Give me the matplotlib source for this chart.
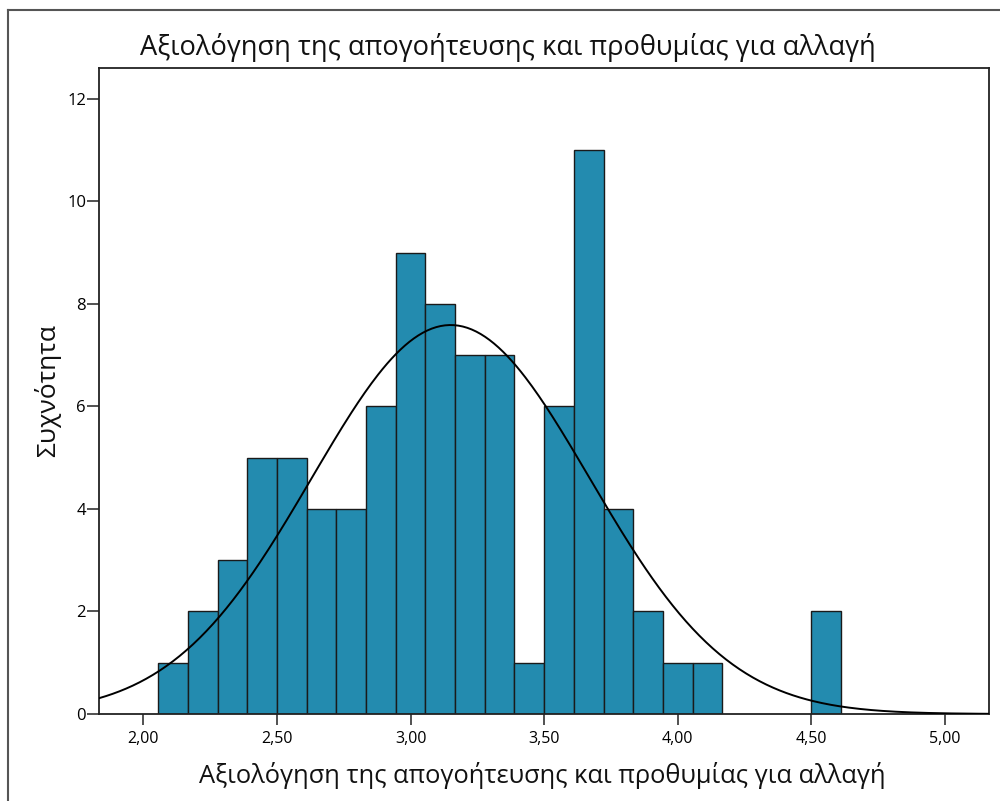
import numpy as np
import matplotlib
matplotlib.use("Agg")
import matplotlib.pyplot as plt
from matplotlib.lines import Line2D

plt.rcParams['font.family'] = ['Open Sans', 'DejaVu Sans']

# ---- data ----
bin_centers = [2.1111, 2.2222, 2.3333, 2.4444, 2.5556, 2.6667, 2.7778, 2.8889,
               3.0000, 3.1111, 3.2222, 3.3333, 3.4444, 3.5556, 3.6667, 3.7778,
               3.8889, 4.0000, 4.1111, 4.5556]
counts = [1, 2, 3, 5, 5, 4, 4, 6, 9, 8, 7, 7, 1, 6, 11, 4, 2, 1, 1, 2]
BIN_WIDTH = 1 / 9
MEAN = 3.15
SD = 0.52
N = 89
x_ticks = [2.0, 2.5, 3.0, 3.5, 4.0, 4.5, 5.0]
x_ticklabels = ["2,00", "2,50", "3,00", "3,50", "4,00", "4,50", "5,00"]
y_ticks = [0, 2, 4, 6, 8, 10, 12]

title = "Αξιολόγηση της απογοήτευσης και προθυμίας για αλλαγή"
xlabel = "Αξιολόγηση της απογοήτευσης και προθυμίας για αλλαγή"
ylabel = "Συχνότητα"

BAR_COLOR = "#238BAF"

fig = plt.figure(figsize=(10.0, 8.01), dpi=100)
ax = fig.add_axes([0.0993, 0.1086, 0.890, 0.8065])

ax.bar(bin_centers, counts, width=BIN_WIDTH, color=BAR_COLOR,
       edgecolor="#1a1a1a", linewidth=1.0, zorder=2)

xlim = (1.835, 5.166)
xs = np.linspace(xlim[0], xlim[1], 400)
ys = N * BIN_WIDTH * np.exp(-0.5 * ((xs - MEAN) / SD) ** 2) / (SD * np.sqrt(2 * np.pi))
ax.plot(xs, ys, color="black", linewidth=1.4, zorder=3)

ax.set_xlim(*xlim)
ax.set_ylim(0, 12.6)
ax.set_xticks(x_ticks)
ax.set_xticklabels(x_ticklabels)
ax.set_yticks(y_ticks)
ax.tick_params(axis='x', length=8, width=1.2, pad=4, labelsize=11.5, color="#333333")
ax.tick_params(axis='y', length=8.5, width=1.2, pad=1, labelsize=12, color="#333333")
for s in ax.spines.values():
    s.set_linewidth(1.3)
    s.set_color("#222222")

fig.text(0.508, 0.941, title, ha='center', va='center', fontsize=19.6, color="#111111")
fig.text(0.542, 0.032, xlabel, ha='center', va='center', fontsize=18.4, color="#111111")
fig.text(0.048, 0.513, ylabel, ha='center', va='center', fontsize=19, rotation=90, color="#111111")

# outer frame (left and top edges of the exported image border)
fig.add_artist(Line2D([0.008, 0.008], [0.0, 0.9875], transform=fig.transFigure, color="#555555", linewidth=1.5))
fig.add_artist(Line2D([0.008, 1.0], [0.9875, 0.9875], transform=fig.transFigure, color="#555555", linewidth=1.5))

fig.savefig("out.png", dpi=100)
